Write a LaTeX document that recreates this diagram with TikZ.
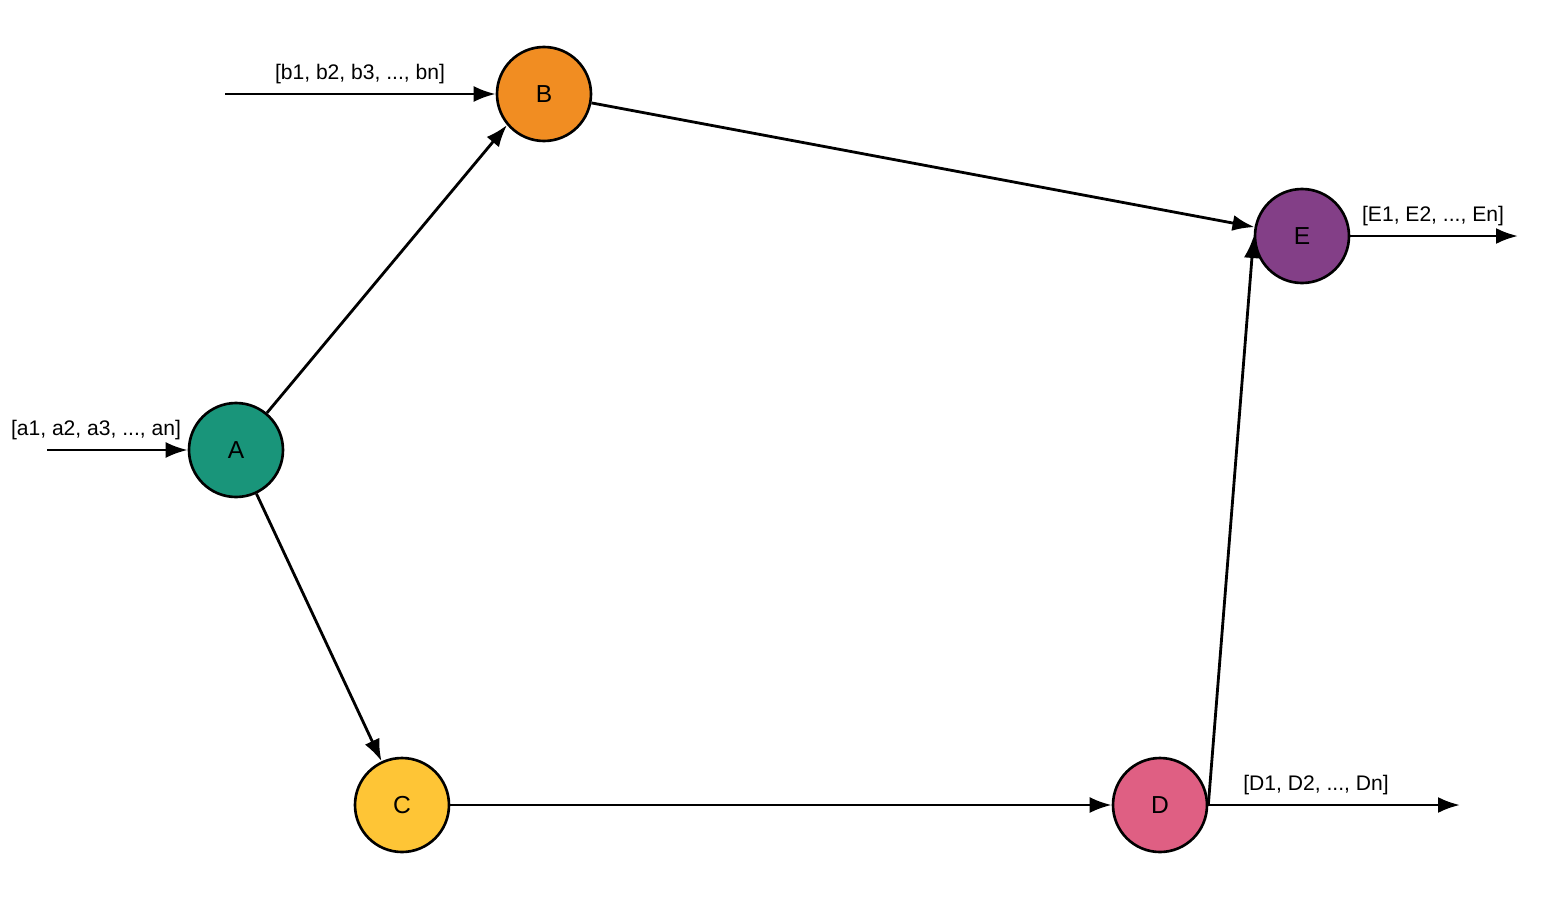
\documentclass[tikz,border=0pt]{standalone}
\usepackage{fontspec}
\setmainfont{Liberation Sans}
\usepackage{xcolor}
\usetikzlibrary{arrows.meta}

\definecolor{stateA}{HTML}{19957A}
\definecolor{stateB}{HTML}{F18D22}
\definecolor{stateC}{HTML}{FEC536}
\definecolor{stateD}{HTML}{DF5F83}
\definecolor{stateE}{HTML}{833F87}

\begin{document}
\begin{tikzpicture}[x=0.2mm, y=-0.2mm,
    every node/.style={font=\fontsize{12}{14}\selectfont},
    state/.style={circle, draw=black, line width=1.5pt, minimum size=18.8mm,
      inner sep=0pt, font=\fontsize{14}{16}\selectfont},
    flow/.style={line width=1.6pt, -{Latex[length=4.4mm, width=3.2mm]}}]
    \useasboundingbox (0, 0) rectangle (1563, 900);

    % States
    \node[state, fill=stateA] (A) at (236, 450) {A};
    \node[state, fill=stateB] (B) at (544, 94) {B};
    \node[state, fill=stateC] (C) at (402, 805) {C};
    \node[state, fill=stateD] (D) at (1160, 805) {D};
    \node[state, fill=stateE] (E) at (1302, 236) {E};

    % Free ends of input / output streams
    \coordinate (aIn) at (47, 450);
    \coordinate (bIn) at (225, 94);
    \coordinate (eOut) at (1518, 236);
    \coordinate (dOut) at (1460, 805);

    % Streams
    \draw[flow] (aIn) -- (A);
    \draw[flow] (bIn) -- (B);
    \draw[flow] (E) -- (eOut);
    \draw[flow] (D.east) -- (dOut);
    \node (aLabel) at (96, 430) {[a1, a2, a3, ..., an]};
    \node (bLabel) at (360, 74) {[b1, b2, b3, ..., bn]};
    \node (eLabel) at (1433, 216) {[E1, E2, ..., En]};
    \node (dLabel) at (1316, 785) {[D1, D2, ..., Dn]};

    % Transitions
    \draw[flow] (A) -- (B.220);
    \draw[flow] (A) -- (C);
    \draw[flow] (B) -- (E);
    \draw[flow] (C) -- (D);
    \draw[flow] (D.east) -- (E.west);
  \end{tikzpicture}
\end{document}
